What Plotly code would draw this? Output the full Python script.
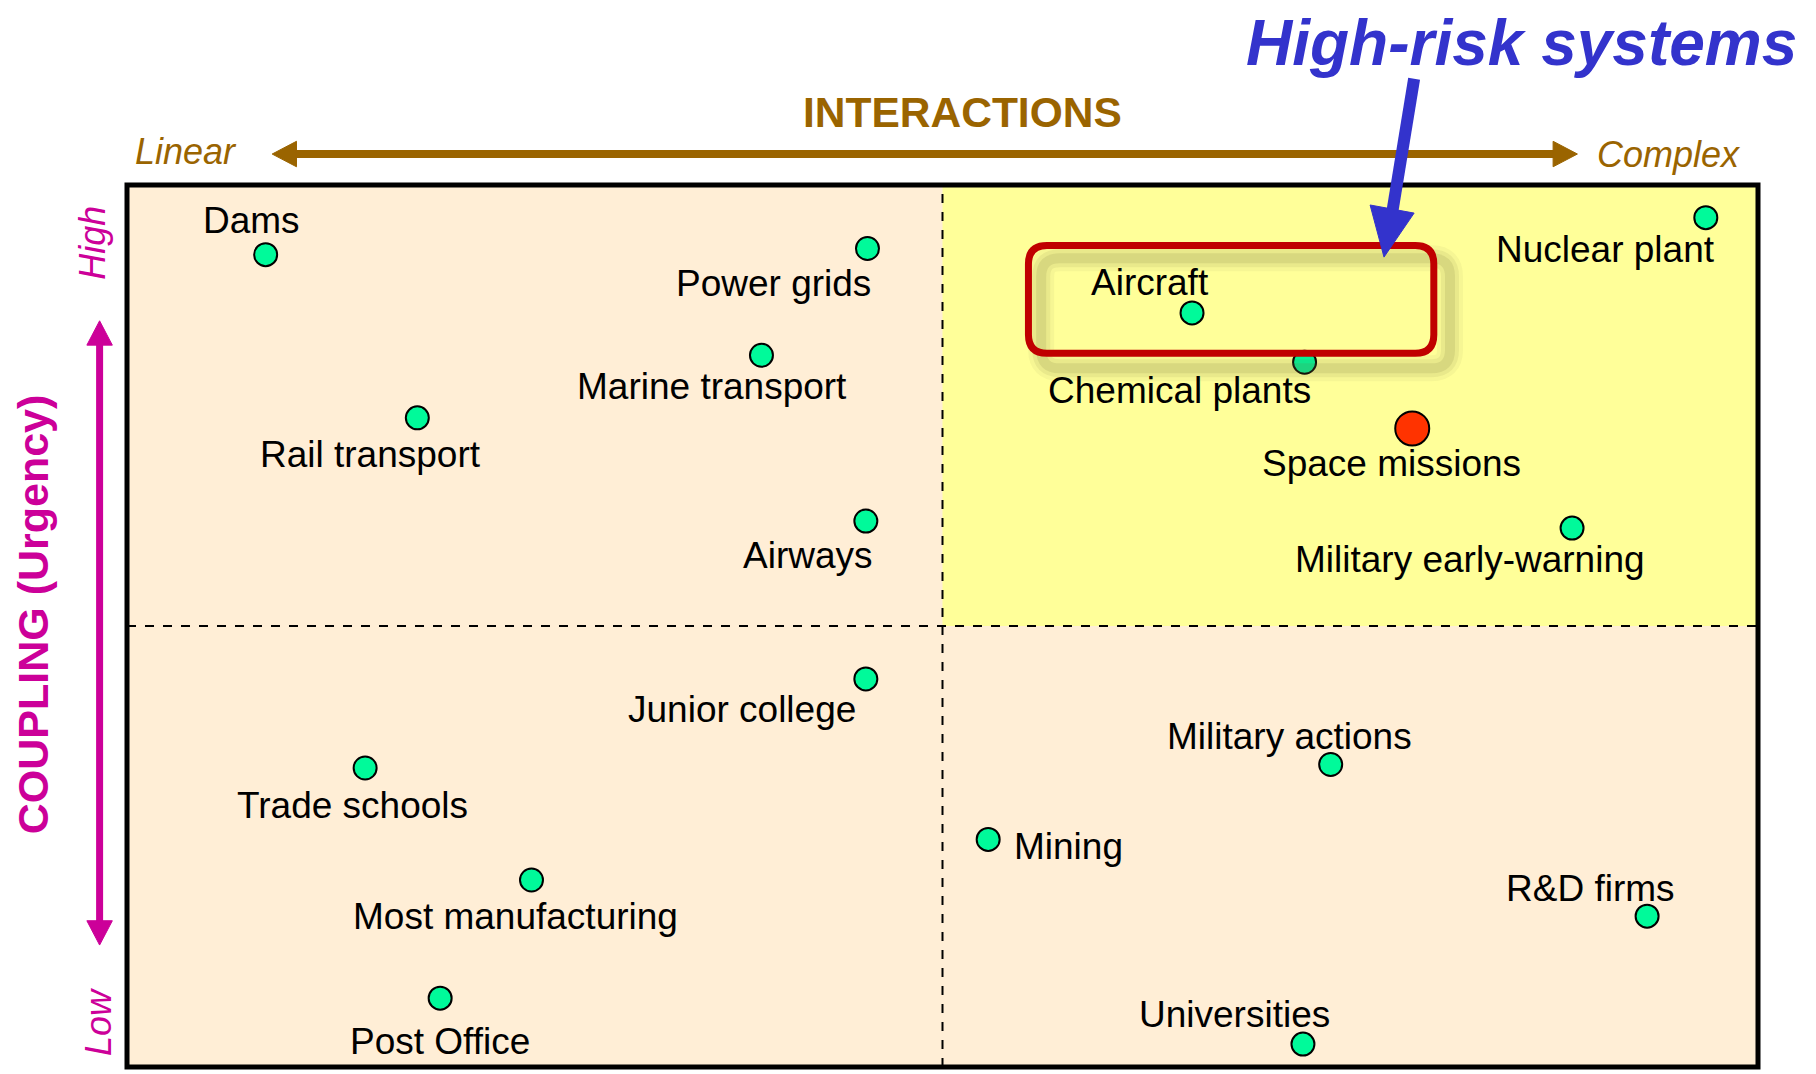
import plotly.graph_objects as go

# ---------------- data ----------------
systems = ["Dams", "Power grids", "Marine transport", "Rail transport", "Airways",
           "Aircraft", "Chemical plants", "Space missions", "Military early-warning",
           "Nuclear plant", "Junior college", "Trade schools", "Most manufacturing",
           "Post Office", "Military actions", "Mining", "R&D firms", "Universities"]
interactions = [8.5, 45.4, 38.9, 17.8, 45.3,
                65.3, 72.2, 78.8, 88.6,
                96.8, 45.3, 14.6, 24.8,
                19.2, 73.8, 52.8, 93.2, 72.1]
coupling = [92.1, 92.8, 80.7, 73.6, 61.9,
            85.5, 79.9, 72.4, 61.1,
            96.3, 44.0, 33.9, 21.2,
            7.8, 34.3, 25.8, 17.1, 2.6]
highlight = "Space missions"
divider = 50

# label placement (pixel offsets from each dot): (xshift, yshift, xanchor)
label_offsets = {
    "Dams": (-14, 34, "center"),
    "Power grids": (6, -35, "right"),
    "Marine transport": (-49, -31, "center"),
    "Rail transport": (-47, -37, "center"),
    "Airways": (-58, -34, "center"),
    "Aircraft": (-42, 30, "center"),
    "Chemical plants": (-125, -28, "center"),
    "Space missions": (-21, -35, "center"),
    "Military early-warning": (-102, -31, "center"),
    "Nuclear plant": (-100, -32, "center"),
    "Junior college": (-124, -31, "center"),
    "Trade schools": (-13, -37, "center"),
    "Most manufacturing": (-16, -36, "center"),
    "Post Office": (0, -43, "center"),
    "Military actions": (-41, 28, "center"),
    "Mining": (24, -7, "left"),
    "R&D firms": (-57, 28, "center"),
    "Universities": (-68, 30, "center"),
}

# ---------------- geometry ----------------
WIDTH, HEIGHT = 1816, 1074
L, T, W, H = 127, 185, 1631, 882
B = T + H
S = 1816 / 1568  # reference preview -> full scale

def fx(xm):
    return (xm * S - L) / W

def fy(ym):
    return (B - ym * S) / H

FONT = "Liberation Sans, Arial, Helvetica, sans-serif"
BROWN = "#9A6400"
MAGENTA = "#CC0099"
BLUE = "#3333CC"

fig = go.Figure()

colors = ["#FF3300" if s == highlight else "#00FA9A" for s in systems]
sizes = [34 if s == highlight else 23 for s in systems]
fig.add_trace(go.Scatter(
    x=interactions, y=coupling, mode="markers",
    marker=dict(color=colors, size=sizes, opacity=1, line=dict(color="black", width=2)),
    hoverinfo="text", text=systems, showlegend=False,
))

annotations = []
for s, xv, yv in zip(systems, interactions, coupling):
    dx, dy, anc = label_offsets[s]
    annotations.append(dict(
        x=xv, y=yv, xref="x", yref="y", text=s, showarrow=False,
        xshift=dx, yshift=dy, xanchor=anc, yanchor="middle",
        font=dict(family=FONT, size=37, color="black"),
    ))

def txt(xm, ym, text, size, color, bold=False, italic=False, angle=0):
    t = text
    if bold:
        t = "<b>" + t + "</b>"
    if italic:
        t = "<i>" + t + "</i>"
    annotations.append(dict(
        x=fx(xm), y=fy(ym), xref="paper", yref="paper", text=t, showarrow=False,
        xanchor="center", yanchor="middle", textangle=angle,
        font=dict(family=FONT, size=size, color=color),
    ))

txt(831, 97, "INTERACTIONS", 42.5, BROWN, bold=True)
txt(161, 131, "Linear", 36, BROWN, italic=True)
txt(1441, 133, "Complex", 36, BROWN, italic=True)
txt(1314, 37, "High-risk systems", 64, BLUE, bold=True, italic=True)
txt(28, 530, "COUPLING (Urgency)", 43, MAGENTA, bold=True, angle=-90)
txt(80, 210, "High", 36, MAGENTA, italic=True, angle=-90)
txt(85, 882, "Low", 36, MAGENTA, italic=True, angle=-90)

shapes = []
# yellow high-risk quadrant
shapes.append(dict(type="rect", xref="x", yref="y", x0=divider, x1=100, y0=divider, y1=100,
                   fillcolor="#FFFF99", line=dict(width=0), layer="below"))
# dashed dividers
shapes.append(dict(type="line", xref="x", yref="y", x0=divider, x1=divider, y0=0, y1=100,
                   line=dict(color="black", width=2, dash="dash"), layer="below"))
shapes.append(dict(type="line", xref="x", yref="y", x0=0, x1=100, y0=divider, y1=divider,
                   line=dict(color="black", width=2, dash="dash"), layer="below"))
# frame
shapes.append(dict(type="rect", xref="paper", yref="paper", x0=0, x1=1, y0=0, y1=1,
                   line=dict(color="black", width=5), layer="above"))

def rrect(x0, y0, x1, y1, r):
    X0, X1 = fx(x0), fx(x1)
    Yt, Yb = fy(y0), fy(y1)
    rx, ry = r * S / W, r * S / H
    return (f"M {X0+rx},{Yt} L {X1-rx},{Yt} Q {X1},{Yt} {X1},{Yt-ry} "
            f"L {X1},{Yb+ry} Q {X1},{Yb} {X1-rx},{Yb} L {X0+rx},{Yb} "
            f"Q {X0},{Yb} {X0},{Yb+ry} L {X0},{Yt-ry} Q {X0},{Yt} {X0+rx},{Yt} Z")

# soft shadow of the highlight box
for wdt, alpha in ((26, 0.06), (18, 0.09), (10, 0.14)):
    shapes.append(dict(type="path", xref="paper", yref="paper",
                       path=rrect(899, 223, 1252, 318, 16),
                       line=dict(color=f"rgba(110,110,60,{alpha})", width=wdt), layer="above"))
# red highlight box
shapes.append(dict(type="path", xref="paper", yref="paper", path=rrect(888, 212, 1238, 305, 16),
                   line=dict(color="#C00000", width=7), layer="above"))

def arrow_line(x0, y0, x1, y1, color, width):
    shapes.append(dict(type="line", xref="paper", yref="paper", x0=fx(x0), y0=fy(y0),
                       x1=fx(x1), y1=fy(y1), line=dict(color=color, width=width), layer="above"))

def tri(p1, p2, p3, color):
    pts = [p1, p2, p3]
    path = "M " + " L ".join(f"{fx(a)},{fy(b)}" for a, b in pts) + " Z"
    shapes.append(dict(type="path", xref="paper", yref="paper", path=path,
                       fillcolor=color, line=dict(color=color, width=1), layer="above"))

# brown horizontal double arrow
arrow_line(252, 133, 1345, 133, BROWN, 8)
tri((235, 133), (256, 122), (256, 144), BROWN)
tri((1362, 133), (1341, 122), (1341, 144), BROWN)

# magenta vertical double arrow
arrow_line(86, 295, 86, 798, MAGENTA, 7)
tri((86, 277), (75, 298), (97, 298), MAGENTA)
tri((86, 816), (75, 795), (97, 795), MAGENTA)

# blue pointer arrow
arrow_line(1221, 68, 1202, 184, BLUE, 12)
tri((1195, 222), (1221, 184), (1183, 177), BLUE)

fig.update_layout(
    width=WIDTH, height=HEIGHT,
    margin=dict(l=L, r=WIDTH - L - W, t=T, b=HEIGHT - B, autoexpand=False),
    paper_bgcolor="white", plot_bgcolor="#FFEED6",
    xaxis=dict(range=[0, 100], visible=False, showgrid=False, zeroline=False, fixedrange=True),
    yaxis=dict(range=[0, 100], visible=False, showgrid=False, zeroline=False, fixedrange=True),
    shapes=shapes, annotations=annotations, showlegend=False,
)

fig.write_html(
    "out.html",
    config={"displayModeBar": False},
    post_script="document.body.style.margin='0';document.body.style.overflow='hidden';",
)
